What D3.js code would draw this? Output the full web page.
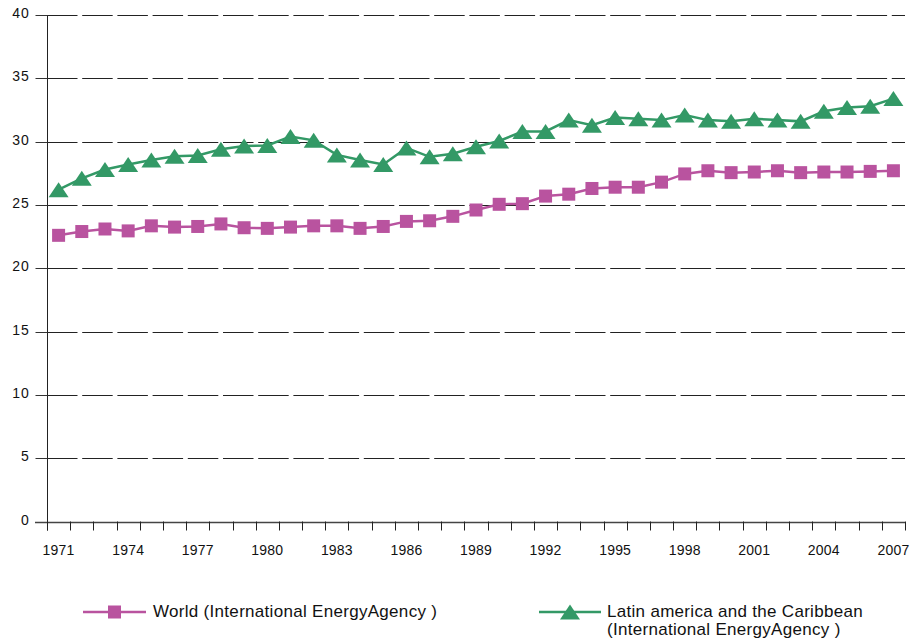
<!DOCTYPE html>
<html>
<head>
<meta charset="utf-8">
<script src="https://cdn.jsdelivr.net/npm/d3@7"></script>
<style>
  html, body { margin: 0; padding: 0; background: #fff; }
  svg { display: block; font-family: "Liberation Sans", Arial, sans-serif; }
</style>
</head>
<body>
<svg id="chart" width="912" height="641"></svg>
<script>
const years = d3.range(1971, 2008);
const labelYears = [1971, 1974, 1977, 1980, 1983, 1986, 1989, 1992, 1995, 1998, 2001, 2004, 2007];
const yTicks = [0, 5, 10, 15, 20, 25, 30, 35, 40];

const worldValues = [22.6, 22.9, 23.1, 22.95, 23.35, 23.25, 23.3, 23.5, 23.2, 23.15,
  23.25, 23.35, 23.35, 23.15, 23.3, 23.7, 23.75, 24.1, 24.6, 25.05,
  25.1, 25.7, 25.85, 26.3, 26.4, 26.4, 26.8, 27.45, 27.7, 27.55,
  27.6, 27.7, 27.55, 27.6, 27.6, 27.65, 27.7];
const latamValues = [26.2, 27.1, 27.8, 28.2, 28.55, 28.85, 28.9, 29.4, 29.65, 29.7,
  30.4, 30.1, 28.95, 28.55, 28.2, 29.5, 28.8, 29.05, 29.6, 30.05,
  30.8, 30.8, 31.7, 31.3, 31.9, 31.8, 31.7, 32.1, 31.7, 31.6,
  31.8, 31.7, 31.6, 32.4, 32.7, 32.8, 33.4];

const seriesNames = ["World (International EnergyAgency )", "Latin america and the Caribbean", "(International EnergyAgency )"];
const worldColor = "#b9539f";
const latamColor = "#339966";

const svg = d3.select("#chart");
const x = d3.scaleBand().domain(years).range([47, 905]).padding(0);
const y = d3.scaleLinear().domain([0, 40]).range([521.5, 15]);
const cx = d => x(d) + x.bandwidth() / 2;

// gridlines
svg.append("g").selectAll("line")
  .data(yTicks.filter(t => t > 0))
  .join("line")
  .attr("x1", 47).attr("x2", 905)
  .attr("y1", d => Math.round(y(d)) + 0.5).attr("y2", d => Math.round(y(d)) + 0.5)
  .attr("stroke", "#222").attr("stroke-width", 1)
  .attr("stroke-dasharray", "30.5,4.7");

// y axis
const yAxis = d3.axisLeft(y).tickValues(yTicks).tickSize(12).tickPadding(6);
const gy = svg.append("g").attr("transform", "translate(47.5,0)").call(yAxis);
gy.select(".domain").attr("d", `M0,${y(40)}V${y(0) + 9}`).attr("stroke", "#222");
gy.selectAll(".tick line").attr("stroke", "#333");
gy.selectAll(".tick").attr("transform", d => `translate(0,${Math.round(y(d)) + 0.5})`);
gy.selectAll(".tick text").attr("font-size", 14).attr("fill", "#111")
  .attr("letter-spacing", 0.8)
  .attr("font-family", "Liberation Sans, Arial, sans-serif").attr("dy", "0.2em");

// x axis line
svg.append("line").attr("x1", 35).attr("x2", 905)
  .attr("y1", Math.round(y(0)) + 0.5).attr("y2", Math.round(y(0)) + 0.5)
  .attr("stroke", "#444").attr("stroke-width", 1.5);
// x boundary ticks
const bounds = years.map(d => x(d)).concat([x.range()[1]]);
svg.append("g").selectAll("line").data(bounds).join("line")
  .attr("x1", d => Math.round(d) + 0.5).attr("x2", d => Math.round(d) + 0.5)
  .attr("y1", y(0)).attr("y2", y(0) + 9)
  .attr("stroke", "#222").attr("stroke-width", 1);
// x labels
svg.append("g").selectAll("text").data(labelYears).join("text")
  .attr("x", d => cx(d)).attr("y", y(0) + 33)
  .attr("text-anchor", "middle").attr("font-size", 14).attr("fill", "#111")
  .attr("letter-spacing", 0.2)
  .text(d => d);

const triPath = (px, py, w, h) => `M${px},${py - h / 2}L${px + w / 2},${py + h / 2}L${px - w / 2},${py + h / 2}Z`;

function drawSeries(vals, color, marker) {
  const line = d3.line().x((d, i) => cx(years[i])).y(d => y(d));
  svg.append("path").datum(vals).attr("d", line)
    .attr("fill", "none").attr("stroke", color).attr("stroke-width", 2.5);
  const g = svg.append("g");
  if (marker === "square") {
    g.selectAll("rect").data(vals).join("rect")
      .attr("x", (d, i) => cx(years[i]) - 6.5).attr("y", d => y(d) - 6.5)
      .attr("width", 13).attr("height", 13).attr("fill", color);
  } else {
    g.selectAll("path").data(vals).join("path")
      .attr("d", (d, i) => triPath(cx(years[i]), y(d), 20, 15)).attr("fill", color);
  }
}
drawSeries(worldValues, worldColor, "square");
drawSeries(latamValues, latamColor, "triangle");

// legend
const lg = svg.append("g").attr("font-size", 17).attr("letter-spacing", 0.3).attr("fill", "#111");
lg.append("line").attr("x1", 83).attr("x2", 146).attr("y1", 612).attr("y2", 612)
  .attr("stroke", worldColor).attr("stroke-width", 2.5);
lg.append("rect").attr("x", 108).attr("y", 605.5).attr("width", 13).attr("height", 13).attr("fill", worldColor);
lg.append("text").attr("x", 153).attr("y", 617).text(seriesNames[0]);

lg.append("line").attr("x1", 539).attr("x2", 601).attr("y1", 612).attr("y2", 612)
  .attr("stroke", latamColor).attr("stroke-width", 2.5);
lg.append("path").attr("d", triPath(570, 612, 20, 15)).attr("fill", latamColor);
lg.append("text").attr("x", 607).attr("y", 617).text(seriesNames[1]);
lg.append("text").attr("x", 607).attr("y", 635).text(seriesNames[2]);
</script>
</body>
</html>
